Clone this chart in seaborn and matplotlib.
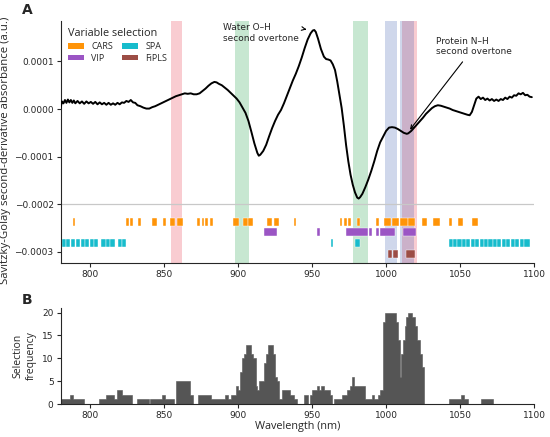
import numpy as np
import seaborn as sns
import matplotlib.pyplot as plt
from matplotlib.patches import Patch
from matplotlib.ticker import FuncFormatter

# mean second-derivative spectrum (values in 1e-5 a.u.)
spectrum_nm = [780, 781, 782, 783, 784, 785, 786, 787, 788, 789, 790, 791.5, 793, 794.5, 796,
               797.5, 799, 800.5, 802, 803.5, 805, 806.5, 808, 809.5, 811, 812.5, 814, 815.5,
               817, 818.5, 820, 821.5, 823, 824.5, 826, 827.5, 829, 830.5, 832, 834, 836, 838,
               840, 842, 844, 846, 848, 850, 852, 854, 856, 858, 860, 862, 864, 866, 868, 870,
               872, 874, 876, 878, 880, 882, 884, 885.5, 887, 889, 891, 893, 895, 897, 899, 901,
               903, 905, 907, 909, 911, 913, 914, 915, 917, 919, 921, 923, 925, 927, 929, 931,
               933, 935, 937, 939, 941, 943, 945, 947, 949, 950.5, 951.5, 952.5, 954, 956, 958,
               959.5, 961, 962.5, 964, 965.5, 967, 968.5, 970, 971.5, 973, 974.5, 976, 977.5,
               979, 980.5, 981.5, 982.5, 984, 986, 988, 990, 992, 994, 996, 998, 1000, 1002,
               1004, 1006, 1008, 1010, 1012, 1014, 1015, 1017, 1019, 1021, 1023, 1025, 1027,
               1029, 1031, 1033, 1035, 1037, 1039, 1041, 1043, 1045, 1047, 1049, 1051, 1053,
               1055, 1056.5, 1058, 1059.5, 1061, 1062.5, 1064, 1065.5, 1067, 1068.5, 1070,
               1071.5, 1073, 1074.5, 1076, 1077.5, 1079, 1080.5, 1082, 1083.5, 1085, 1086.5,
               1088, 1089.5, 1091, 1092.5, 1094, 1095.5, 1097, 1098.5]
spectrum_val = [0.2, 1.6, 1.2, 1.9, 1.3, 2.0, 1.4, 1.9, 1.3, 1.8, 1.2, 1.7, 1.2, 1.6, 1.1,
                1.6, 1.2, 1.5, 1.1, 1.5, 1.0, 1.4, 1.0, 1.3, 0.9, 1.3, 0.9, 1.2,
                0.9, 1.3, 1.0, 1.4, 1.3, 1.7, 1.5, 1.9, 1.4, 1.3, 0.8, 0.6, 0.3, 0.1,
                0.1, 0.4, 0.6, 0.9, 1.2, 1.5, 1.8, 2.1, 2.4, 2.7, 2.9, 3.1, 3.3, 3.2, 3.3, 3.1,
                3.1, 3.3, 3.8, 4.3, 4.9, 5.4, 5.7, 5.6, 5.3, 5.0, 4.5, 4.0, 3.4, 2.8, 2.2, 1.4,
                0.3, -0.8, -2.5, -4.8, -7.2, -9.2, -9.8, -9.6, -8.8, -7.5, -5.7, -4.0, -2.5, -1.2, -0.2, 1.2,
                2.8, 4.4, 6.0, 7.4, 9.0, 10.8, 12.8, 14.6, 15.9, 16.5, 16.6, 16.2, 14.8, 12.6, 11.0,
                10.5, 10.4, 10.2, 9.4, 8.2, 5.8, 3.0, 0.2, -3.5, -7.6, -11.0, -13.8, -15.9,
                -17.5, -18.6, -18.8, -18.5, -17.8, -16.4, -14.8, -13.0, -11.0, -8.8, -7.0, -5.8, -4.6, -3.9,
                -3.8, -3.9, -4.2, -4.6, -5.0, -5.2, -5.1, -4.6, -3.9, -3.2, -2.5, -1.8, -1.0,
                -0.4, 0.2, 0.6, 0.8, 0.7, 0.5, 0.3, 0.1, -0.2, -0.4, -0.6, -0.8, -1.0,
                -1.2, -1.3, -0.6, 0.8, 2.2, 2.6, 2.1, 2.4, 1.9, 2.2, 1.8,
                2.1, 1.7, 2.0, 1.7, 2.1, 1.9, 2.4, 2.1, 2.6, 2.4, 2.9,
                2.8, 3.3, 3.1, 3.4, 2.9, 3.0, 2.6, 2.5]

# selected wavelength intervals (nm) for each method
cars_sel = [(788.5, 790), (824.4, 826.2), (827.3, 829.2), (832.3, 834.1), (841.7, 845.3),
            (849.4, 851.1), (854.1, 857.4), (858.8, 862.6), (872.3, 874.3), (875.6, 877.2),
            (877.8, 879.4), (881, 882.8), (896.9, 900.3), (903.6, 906.8), (907, 910.4),
            (919.4, 923), (924.3, 927.9), (937.8, 939.3), (968.8, 970.3), (971.9, 973.3),
            (974.3, 976.4), (980.4, 982.2), (993.5, 995), (998.4, 1003.5), (1003.7, 1008.5),
            (1009.6, 1014.5), (1014.7, 1019.7), (1024.2, 1027.5), (1031.4, 1036.3),
            (1042.8, 1044.4), (1048.9, 1051.8), (1058.3, 1062.4)]
vip_sel = [(917.6, 926.5), (953.5, 955.3), (972.6, 987.6), (988.7, 990.5), (993.5, 995),
           (996.2, 1005.8), (1011.2, 1020.1)]
spa_sel = [(780.7, 783.5), (783.7, 786.6), (786.8, 789.6), (790.8, 793.5), (793.7, 796.5),
           (796.7, 799.4), (799.6, 802.4), (802.6, 805.3), (807.6, 810.5), (810.7, 813.5),
           (813.7, 816.6), (818.8, 821.3), (821.5, 824), (962.5, 964.2), (978.8, 982.2),
           (1042.2, 1045), (1045.2, 1048), (1048.2, 1051), (1051.2, 1054), (1054.2, 1057),
           (1057.2, 1060), (1060.2, 1063), (1063.2, 1066), (1066.2, 1069), (1069.2, 1072),
           (1072.2, 1075), (1075.2, 1078), (1078.2, 1081), (1081.2, 1084), (1084.2, 1087),
           (1087.2, 1090), (1090.2, 1093), (1093.2, 1097.6)]
fipls_sel = [(1001, 1004.3), (1004.5, 1008), (1013.7, 1019.7)]

methods = ['CARS', 'VIP', 'SPA', 'FiPLS']
method_rows = [-0.000237, -0.000259, -0.000282, -0.000304]
method_colors = ['#ff9408', '#9b55c4', '#17bccc', '#9c4d45']

# highlighted bands
band_red = [(854.4, 861.9), (1010.6, 1021.1)]
band_green = [(897.8, 907.5), (977.5, 987.7)]
band_blue = [(999.5, 1007.3), (1009.2, 1019.1)]

# selection frequency histogram
hist_edges = [780, 786.7, 788.5, 795.7, 805.8, 810.5, 816.1, 818.1, 821.3, 828.5, 831.8, 839.7,
              840.8, 848.7, 850.4, 857, 858.3, 867.7, 869.3, 872.7, 881.7, 891.3, 893.3, 895.1,
              898.4, 900, 901.3, 902.8, 904, 905.5, 908.9, 910.2, 911.8, 912.9, 914, 917.4, 919,
              920.3, 923.7, 924.8, 926.4, 927.5, 929.7, 934.9, 937.6, 939.8, 944.7, 947.2, 948.8,
              950, 953.4, 954.5, 956.3, 957.9, 962.3, 963.8, 965, 970, 973.4, 975.5, 977.2, 978.6,
              985.7, 990.2, 992, 994.3, 995.8, 998.1, 999.2, 1007, 1008.2, 1009.3, 1010.4, 1011.5,
              1012.6, 1013.8, 1014.9, 1017.6, 1019.4, 1021.2, 1022.7, 1024.3, 1025.5, 1042.5,
              1050.8, 1053, 1055.5, 1064.2, 1072, 1100]
hist_counts = [1, 2, 1, 0, 1, 2, 1, 3, 2, 0, 1,
               0, 1, 2, 1, 0, 5, 2, 0, 2, 1, 2, 1,
               2, 4, 3, 7, 10, 11, 13, 11, 10, 4, 3, 5, 9,
               11, 13, 11, 6, 5, 1, 3, 2, 1, 0, 2, 0,
               2, 3, 4, 3, 4, 3, 2, 0, 1, 2, 3, 4, 6,
               4, 1, 2, 1, 2, 3, 18, 20, 18, 14, 6, 11,
               14, 17, 19, 20, 19, 17, 14, 11, 8, 0,
               1, 2, 1, 0, 1, 0]

sns.set_style('ticks')
plt.rcParams['font.family'] = ['DejaVu Sans']

fig = plt.figure(figsize=(5.5, 4.37), dpi=100)
ax = fig.add_axes([0.110, 0.398, 0.861, 0.554])
ax2 = fig.add_axes([0.110, 0.0755, 0.861, 0.2195])

# top panel
for a, b in band_red:
    ax.axvspan(a, b, color='#eb374b', alpha=0.25, lw=0, zorder=0)
for a, b in band_green:
    ax.axvspan(a, b, color='#23a34b', alpha=0.25, lw=0, zorder=0)
for a, b in band_blue:
    ax.axvspan(a, b, color='#4363b3', alpha=0.25, lw=0, zorder=0)

ax.axhline(-0.0002, color='#c8c8c8', lw=0.9, zorder=1)

sns.lineplot(x=spectrum_nm, y=np.array(spectrum_val) * 1e-5, ax=ax, color='black', lw=1.4, zorder=3)

bar_h = 0.0000165
for sel, row, col in zip([cars_sel, vip_sel, spa_sel, fipls_sel], method_rows, method_colors):
    starts = [s for s, e in sel]
    widths = [e - s for s, e in sel]
    ax.bar(starts, bar_h, width=widths, bottom=row - bar_h / 2, align='edge',
           color=col, edgecolor='white', linewidth=0.3, zorder=2)

ax.annotate('Water O\u2013H\nsecond overtone', xy=(948, 0.000166), xytext=(890, 0.000160),
            ha='left', va='center', fontsize=6.5,
            arrowprops=dict(arrowstyle='->', color='black', lw=0.8, relpos=(1, 0.75)))
ax.annotate('Protein N\u2013H\nsecond overtone', xy=(1015, -0.000048), xytext=(1034, 0.000131),
            ha='left', va='center', fontsize=6.5,
            arrowprops=dict(arrowstyle='->', color='black', lw=0.8))

ax.set_xlim(780, 1100)
ax.set_ylim(-0.0003235, 0.000185)
ax.set_yticks([-0.0003, -0.0002, -0.0001, 0.0, 0.0001])
ax.yaxis.set_major_formatter(FuncFormatter(lambda v, p: f'{v:.4f}'.replace('-', '\u2212')))
ax.set_xticks([800, 850, 900, 950, 1000, 1050, 1100])
ax.tick_params(labelsize=6.5, length=3, width=0.8, pad=2)
ax.set_ylabel('Savitzky-Golay second-derivative absorbance (a.u.)', fontsize=8.2,
              family='Open Sans')
ax.yaxis.set_label_coords(-0.104, 0.467)
ax.set_xlabel('')

handles = [Patch(facecolor=c, edgecolor='none') for c in method_colors]
leg = ax.legend(handles, methods, loc='upper left', bbox_to_anchor=(0.0, 1.0), ncol=2,
                frameon=False, fontsize=6.5, title='Variable selection', title_fontsize=7.8,
                handlelength=1.8, handleheight=0.6, columnspacing=1.0, labelspacing=0.3,
                alignment='left', borderpad=0.3)
for t in leg.get_texts():
    t.set_family('Open Sans')
leg.get_title().set_family('Open Sans')

# bottom panel
hist_mid = [(hist_edges[i] + hist_edges[i + 1]) / 2 for i in range(len(hist_counts))]
sns.histplot(x=hist_mid, weights=hist_counts, bins=hist_edges, element='step', fill=True,
             color='#555555', alpha=1, linewidth=0.4, ax=ax2)
ax2.set_xlim(780, 1100)
ax2.set_ylim(0, 21)
ax2.set_yticks([0, 5, 10, 15, 20])
ax2.set_xticks([800, 850, 900, 950, 1000, 1050, 1100])
ax2.tick_params(labelsize=6.5, length=3, width=0.8, pad=2)
ax2.set_ylabel('Selection\nfrequency', fontsize=7.5, family='Open Sans', labelpad=4)
ax2.set_xlabel('Wavelength (nm)', fontsize=7.8, family='Open Sans', labelpad=1)

sns.despine(ax=ax)
sns.despine(ax=ax2)

fig.text(0.05, 0.977, 'A', fontsize=10, fontweight='bold', ha='center', va='center')
fig.text(0.05, 0.313, 'B', fontsize=10, fontweight='bold', ha='center', va='center')

fig.savefig('out.png', dpi=100)
